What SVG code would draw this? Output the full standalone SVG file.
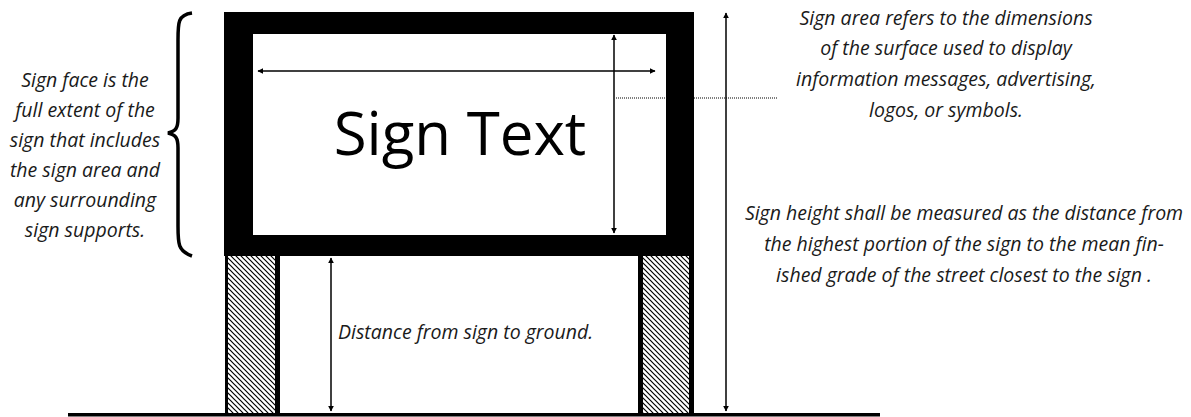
<svg xmlns="http://www.w3.org/2000/svg" width="1191" height="417" viewBox="0 0 1191 417">
<style>
.lbl{font-family:"Open Sans","Noto Sans",sans-serif;font-style:italic;font-size:19.5px;fill:#1a1a1a;text-anchor:middle}
.dim{stroke:#000;stroke-width:1.5;fill:none;marker-start:url(#ah);marker-end:url(#ah)}
</style>
<defs>
<marker id="ah" viewBox="0 0 10 10" refX="9" refY="5" markerWidth="6" markerHeight="6" markerUnits="userSpaceOnUse" orient="auto-start-reverse">
<path d="M0,0 L10,5 L0,10 z" fill="#000"/>
</marker>
<pattern id="hatch" width="5" height="5" patternUnits="userSpaceOnUse">
<rect width="5" height="5" fill="#fff"/>
<path d="M-1,-1 L6,6 M-1,4 L1,6 M4,-1 L6,1" stroke="#000" stroke-width="1.2"/>
</pattern>
</defs>
<rect width="1191" height="417" fill="#fff"/>
<g id="left-post"><rect x="225" y="256" width="55" height="158" fill="#000"/><rect x="228" y="256" width="47" height="158" fill="url(#hatch)"/></g>
<g id="right-post"><rect x="638" y="256" width="56" height="158" fill="#000"/><rect x="643" y="256" width="46" height="158" fill="url(#hatch)"/></g>
<g id="ground"><rect x="68" y="413" width="812" height="3.5" fill="#000"/></g>
<g id="sign-face"><rect x="224" y="12" width="470" height="244" fill="#000"/><rect x="253" y="34" width="413" height="201" fill="#fff"/>
<text x="460" y="155" font-family="Open Sans,Noto Sans,sans-serif" font-size="60" text-anchor="middle" fill="#000">Sign Text</text></g>
<g id="connectors">
<line class="dim" x1="258" y1="71" x2="655" y2="71"/>
<line class="dim" x1="614" y1="35" x2="614" y2="233"/>
<line class="dim" x1="331" y1="258" x2="331" y2="411"/>
<line class="dim" x1="726" y1="13" x2="726" y2="411"/>
<line x1="616" y1="98" x2="778" y2="98" stroke="#000" stroke-width="1" stroke-dasharray="1,1"/>
<path d="M192,13 C178,15 178,22 178,40 L178,118 C178,128 176,131 168,133 C176,135 178,138 178,148 L178,226 C178,244 178,251 192,256" fill="none" stroke="#000" stroke-width="3.5"/>
</g>
<g id="face-label">
<text class="lbl" x="85" y="87">Sign face is the</text>
<text class="lbl" x="85" y="117">full extent of the</text>
<text class="lbl" x="85" y="147">sign that includes</text>
<text class="lbl" x="85" y="177">the sign area and</text>
<text class="lbl" x="85" y="207">any surrounding</text>
<text class="lbl" x="85" y="237">sign supports.</text>
</g>
<g id="area-label">
<text class="lbl" x="946" y="25">Sign area refers to the dimensions</text>
<text class="lbl" x="946" y="55">of the surface used to display</text>
<text class="lbl" x="946" y="86">information messages, advertising,</text>
<text class="lbl" x="946" y="117">logos, or symbols.</text>
</g>
<g id="height-label">
<text class="lbl" x="964" y="220">Sign height shall be measured as the distance from</text>
<text class="lbl" x="964" y="251">the highest portion of the sign to the mean fin-</text>
<text class="lbl" x="964" y="282">ished grade of the street closest to the sign .</text>
</g>
<g id="ground-label">
<text class="lbl" x="338" y="339" style="text-anchor:start">Distance from sign to ground.</text>
</g>
</svg>
